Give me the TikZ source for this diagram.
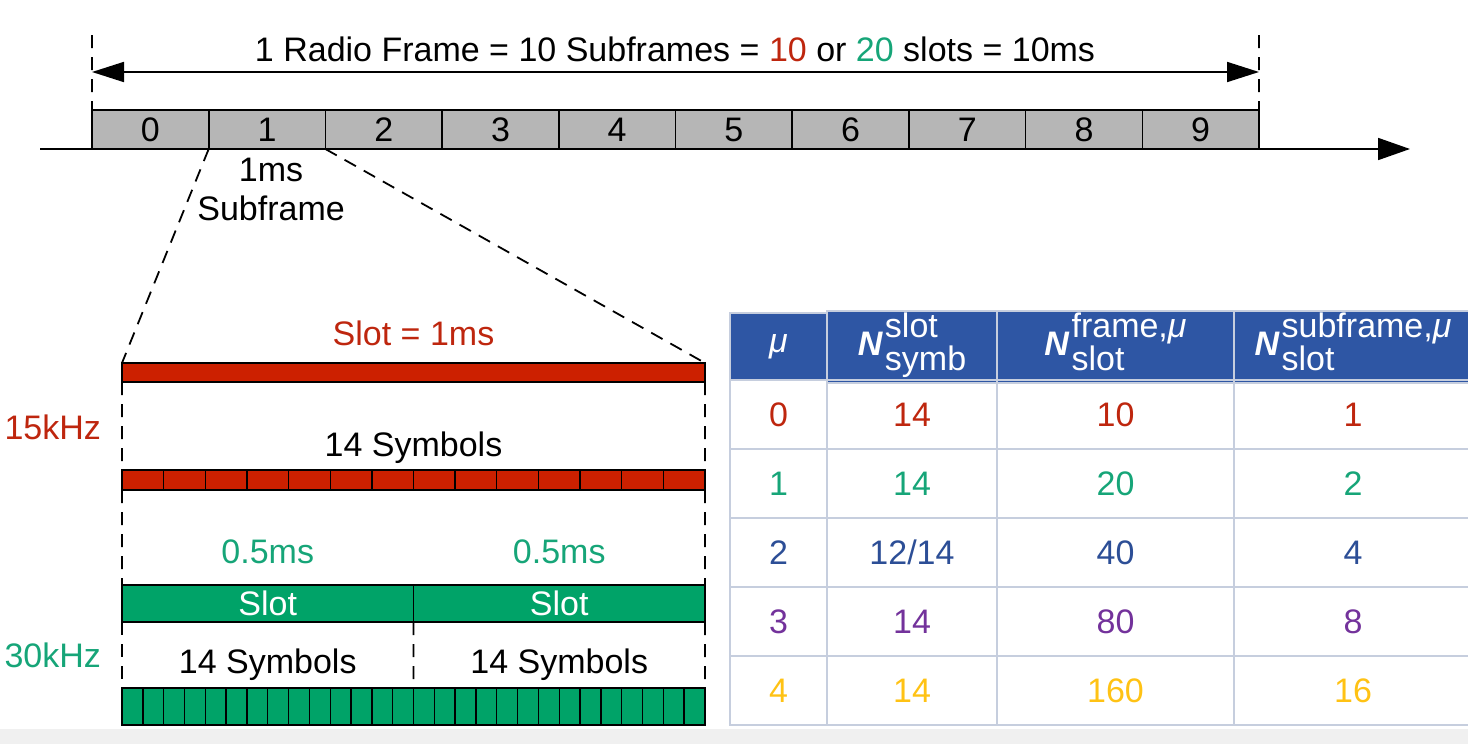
\documentclass[tikz,border=0pt]{standalone}
\usepackage{fontspec}
\setmainfont{Liberation Sans}
\usetikzlibrary{arrows.meta,positioning}
\usepackage{xcolor}
\definecolor{txred}{RGB}{190,38,14}
\definecolor{txgreen}{RGB}{22,165,120}
\definecolor{barred}{RGB}{204,32,0}
\definecolor{bargreen}{RGB}{0,163,104}
\definecolor{sfgray}{RGB}{182,182,182}
\definecolor{hdblue}{RGB}{46,86,164}
\definecolor{mublue}{RGB}{44,78,150}
\definecolor{mupurple}{RGB}{115,50,155}
\definecolor{mugold}{RGB}{255,194,20}
\definecolor{gridc}{RGB}{198,206,222}
\newcommand{\nsym}[2]{\textbf{\textit{N}}\kern1pt\begin{tabular}{@{}l@{}}#1\\[-3pt]#2\end{tabular}}

\begin{document}
\begin{tikzpicture}[x=0.5pt,y=-0.5pt,>=Triangle,
  font=\fontsize{17}{19.5}\selectfont,
  sfbox/.style={draw=black,line width=.8pt,fill=sfgray,minimum width=58.35pt,minimum height=19.5pt,inner sep=0pt,outer sep=0pt},
  slotbar/.style={draw=black,line width=.8pt,inner sep=0pt,outer sep=0pt},
  symcell/.style={draw=black,line width=.7pt,inner sep=0pt,outer sep=0pt},
  guide/.style={dashed,dash pattern=on 6.5pt off 4.5pt,line width=.9pt},
  dimarrow/.style={<->,line width=.9pt,>={Triangle[length=16pt,width=10pt]}},
  axisline/.style={->,line width=.9pt,>={Triangle[length=16pt,width=11pt]}},
  hdcell/.style={draw=gridc,line width=1pt,fill=hdblue,text=white,minimum height=33.5pt,inner sep=0pt,outer sep=0pt},
  cell/.style={draw=gridc,line width=1pt,minimum height=34.5pt,inner sep=0pt,outer sep=0pt}]
\useasboundingbox (0,0) rectangle (1468,744);
\fill[gray!12] (0,729) rectangle (1468,744);

% radio frame with its ten subframes
\foreach \i in {0,...,9}
  \node[sfbox] (sf\i) at ({92+116.7*(\i+0.5)},129.5) {\i};
\coordinate (axs) at (40,149);
\coordinate (axe) at (1410,149);
\draw[axisline] (axs) -- (axe);
\coordinate (ltop) at (92,35);
\coordinate (rtop) at (1259,35);
\draw[guide] (ltop) -- (sf0.north west);
\draw[guide] (rtop) -- (sf9.north east);
\coordinate (dl) at (92,72);
\coordinate (dr) at (1259,72);
\draw[dimarrow] (dl) -- (dr);
\node (title) at (675,49) {1 Radio Frame = 10 Subframes = \textcolor{txred}{10} or \textcolor{txgreen}{20} slots = 10ms};
\node[align=center,below=1pt of sf1,xshift=2pt] (sflabel) {1ms\\Subframe};

% 15 kHz: one slot per subframe
\node[slotbar,fill=barred,minimum width=291.5pt,minimum height=9.5pt] (slot) at (413.5,372.5) {};
\node[above=5pt of slot,text=txred] (slotlabel) {Slot = 1ms};
\draw[guide] (sf1.south west) -- (slot.north west);
\draw[guide] (sf1.south east) -- (slot.north east);
\foreach \i in {0,...,13}
  \node[symcell,fill=barred,minimum width=20.82pt,minimum height=10pt] (rs\i) at ({122+41.64*(\i+0.5)},480) {};
\node (sym15) at (413.5,448) {14 Symbols};
\node[anchor=east,text=txred] (k15) at (108,427) {15kHz};
\draw[guide] (slot.south west) -- (rs0.north west);
\draw[guide] (slot.south east) -- (rs13.north east);

% 30 kHz: two slots per subframe
\node[slotbar,fill=bargreen,text=white,minimum width=145.75pt,minimum height=18.5pt] (gs1) at (267.75,603.5) {Slot};
\node[slotbar,fill=bargreen,text=white,minimum width=145.75pt,minimum height=18.5pt] (gs2) at (559.25,603.5) {Slot};
\node[above=7pt of gs1,text=txgreen] (half1) {0.5ms};
\node[above=7pt of gs2,text=txgreen] (half2) {0.5ms};
\draw[guide] (rs0.south west) -- (gs1.north west);
\draw[guide] (rs13.south east) -- (gs2.north east);
\foreach \i in {0,...,27}
  \node[symcell,fill=bargreen,minimum width=10.41pt,minimum height=18.5pt] (gc\i) at ({122+20.82*(\i+0.5)},706.5) {};
\node (sym30a) at (267.75,665) {14 Symbols};
\node (sym30b) at (559.25,665) {14 Symbols};
\node[anchor=east,text=txgreen] (k30) at (108,655) {30kHz};
\draw[guide] (gs1.south west) -- (gc0.north west);
\draw[guide] (gs1.south east) -- (gc13.north east);
\draw[guide] (gs2.south east) -- (gc27.north east);

% numerology table
\node[hdcell,minimum width=48.5pt] (h1) at (778.5,346.5) {\textit{μ}};
\node[hdcell,minimum width=85pt] (h2) at (912,346.5) {\nsym{slot}{symb}};
\node[hdcell,minimum width=118.5pt] (h3) at (1115.5,346.5) {\nsym{frame,\textit{μ}}{slot}};
\node[hdcell,minimum width=119pt] (h4) at (1353,346.5) {\nsym{subframe,\textit{μ}}{slot}};
\foreach \r/\ry/\m/\ns/\nf/\nsf/\col in {1/414.5/0/14/10/1/txred,2/483.5/1/14/20/2/txgreen,
    3/552.5/2/12{/}14/40/4/mublue,4/621.5/3/14/80/8/mupurple,5/690.5/4/14/160/16/mugold}{
  \node[cell,minimum width=48.5pt,text=\col] (t\r-1) at (778.5,\ry) {\m};
  \node[cell,minimum width=85pt,text=\col] (t\r-2) at (912,\ry) {\ns};
  \node[cell,minimum width=118.5pt,text=\col] (t\r-3) at (1115.5,\ry) {\nf};
  \node[cell,minimum width=119pt,text=\col] (t\r-4) at (1353,\ry) {\nsf};
}
\end{tikzpicture}
\end{document}
